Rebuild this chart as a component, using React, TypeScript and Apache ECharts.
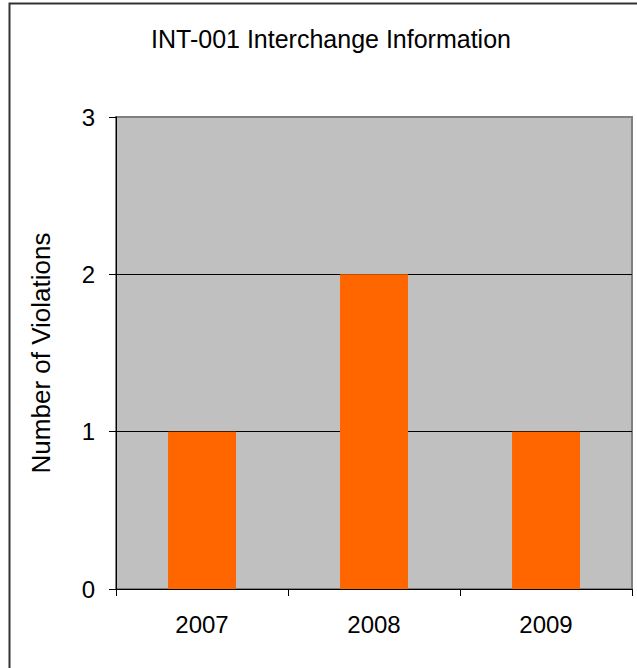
import React, { useEffect, useRef } from "react";
import * as echarts from "echarts";

const categories = ["2007", "2008", "2009"];
const violations = [1, 2, 1];
const titleText = "INT-001 Interchange Information";
const yAxisName = "Number of Violations";

export default function App() {
  const ref = useRef<HTMLDivElement>(null);
  useEffect(() => {
    document.body.style.margin = "0";
    const chart = echarts.init(ref.current!, null, { renderer: "svg" });
    const font = "Liberation Sans, Arial, sans-serif";
    chart.setOption({
      animation: false,
      backgroundColor: "#ffffff",
      textStyle: { fontFamily: font },
      grid: {
        left: 116,
        right: 5,
        top: 117,
        bottom: 79,
        show: true,
        backgroundColor: "#c0c0c0",
        borderColor: "#808080",
        borderWidth: 2,
      },
      graphic: [
        {
          type: "rect",
          shape: { x: 9.5, y: 3.5, width: 700, height: 700 },
          style: { fill: "none", stroke: "#333333", lineWidth: 2 },
          silent: true,
          z: 100,
        },
        {
          type: "text",
          x: 331,
          y: 39,
          style: {
            text: titleText,
            fontFamily: font,
            fontSize: 25,
            fill: "#000000",
            textAlign: "center",
            textVerticalAlign: "middle",
          },
        },
      ],
      xAxis: {
        type: "category",
        data: categories,
        axisLine: { show: true, lineStyle: { color: "#000000", width: 1 } },
        axisTick: { show: true, length: 7, lineStyle: { color: "#000000" } },
        axisLabel: { color: "#000000", fontSize: 24, fontFamily: font, margin: 23 },
        splitLine: { show: false },
      },
      yAxis: {
        type: "value",
        min: 0,
        max: 3,
        interval: 1,
        name: yAxisName,
        nameLocation: "middle",
        nameGap: 62,
        nameTextStyle: { color: "#000000", fontSize: 26, fontFamily: font },
        axisLine: { show: true, lineStyle: { color: "#000000", width: 1 } },
        axisTick: { show: true, length: 7, lineStyle: { color: "#000000" } },
        axisLabel: { color: "#000000", fontSize: 24, fontFamily: font, margin: 21 },
        splitLine: {
          show: true,
          lineStyle: { color: ["#000000", "#000000", "#000000", "#808080"], width: 1 },
        },
      },
      series: [
        {
          type: "bar",
          data: violations,
          barWidth: "39.5%",
          itemStyle: { color: "#ff6600" },
        },
      ],
    });
    return () => chart.dispose();
  }, []);
  return <div ref={ref} style={{ width: 637, height: 668 }} />;
}
